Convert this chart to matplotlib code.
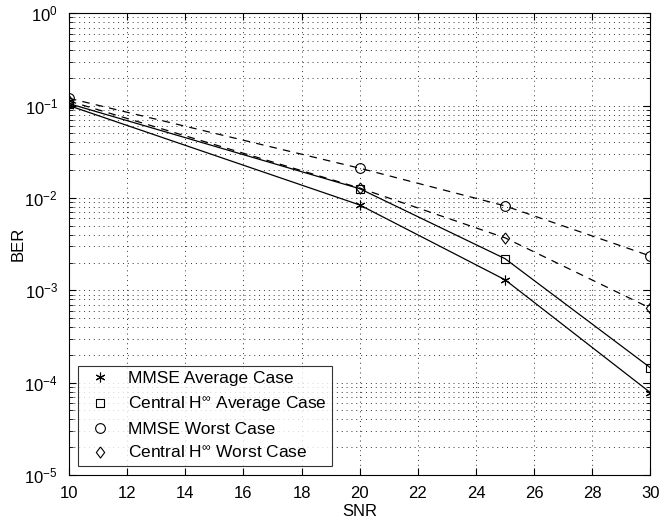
import matplotlib
matplotlib.use("Agg")
import matplotlib.pyplot as plt
from matplotlib.ticker import LogLocator, FixedLocator

plt.rcParams['font.family'] = ['Liberation Sans', 'DejaVu Sans']
plt.rcParams['mathtext.fontset'] = 'custom'
plt.rcParams['mathtext.rm'] = 'Liberation Sans'
plt.rcParams['mathtext.it'] = 'Liberation Sans'

snr = [10, 20, 25, 30]
mmse_avg = [0.100, 0.0084, 0.0013, 7.8e-5]
hinf_avg = [0.105, 0.0126, 0.0022, 1.45e-4]
mmse_worst = [0.120, 0.0210, 0.0082, 2.35e-3]
hinf_worst = [0.112, 0.0128, 0.0037, 6.4e-4]

fig = plt.figure(figsize=(6.6, 5.29), dpi=100)
ax = fig.add_axes([0.1045, 0.102, 0.881, 0.873])

ax.semilogy(snr, mmse_avg, '-', color='black', lw=0.9)
ax.semilogy(snr, hinf_avg, '-', color='black', lw=0.9)
ax.semilogy(snr, mmse_worst, '--', color='black', lw=0.9, dashes=(6, 5))
ax.semilogy(snr, hinf_worst, '--', color='black', lw=0.9, dashes=(6, 5))

# matlab style diamond, a bit narrower than tall
diamond = [(0, 1), (0.75, 0), (0, -1), (-0.75, 0), (0, 1)]

ms = dict(color='black', mfc='none', ls='none', mew=0.8)
h1, = ax.semilogy(snr, mmse_avg, marker=(6, 2, 0), ms=7, **ms)
h2, = ax.semilogy(snr, hinf_avg, marker='s', ms=6, **ms)
h3, = ax.semilogy(snr, mmse_worst, marker='o', ms=7, **ms)
h4, = ax.semilogy(snr, hinf_worst, marker=diamond, ms=8, **ms)

ax.set_xlim(10, 30)
ax.set_ylim(1e-5, 1)
ax.xaxis.set_major_locator(FixedLocator(range(10, 31, 2)))
ax.yaxis.set_major_locator(LogLocator(base=10, numticks=10))
ax.yaxis.set_minor_locator(LogLocator(base=10, subs=range(2, 10), numticks=10))

ax.grid(True, which='major', ls=(0, (1, 4)), color='#333333', lw=0.7)
ax.grid(True, which='minor', axis='y', ls=(0, (1, 4)), color='#333333', lw=0.7)
ax.tick_params(which='both', direction='in', top=True, right=True, labelsize=12)
ax.tick_params(which='major', length=5, pad=8)
ax.tick_params(which='minor', length=3)
for s in ax.spines.values():
    s.set_linewidth(0.8)

ax.set_xlabel('SNR', fontsize=12, labelpad=2)
ax.set_ylabel('BER', fontsize=12, labelpad=-1)

labels = ['MMSE Average Case', r'Central H$^{\infty}$ Average Case',
          'MMSE Worst Case', r'Central H$^{\infty}$ Worst Case']
leg = ax.legend([h1, h2, h3, h4], labels, loc='lower left', fontsize=12.5,
                frameon=True, fancybox=False, edgecolor='black',
                borderaxespad=0.5, handletextpad=0.6, labelspacing=0.45,
                borderpad=0.3)
leg.get_frame().set_linewidth(0.8)

fig.savefig('out.png', dpi=100)
